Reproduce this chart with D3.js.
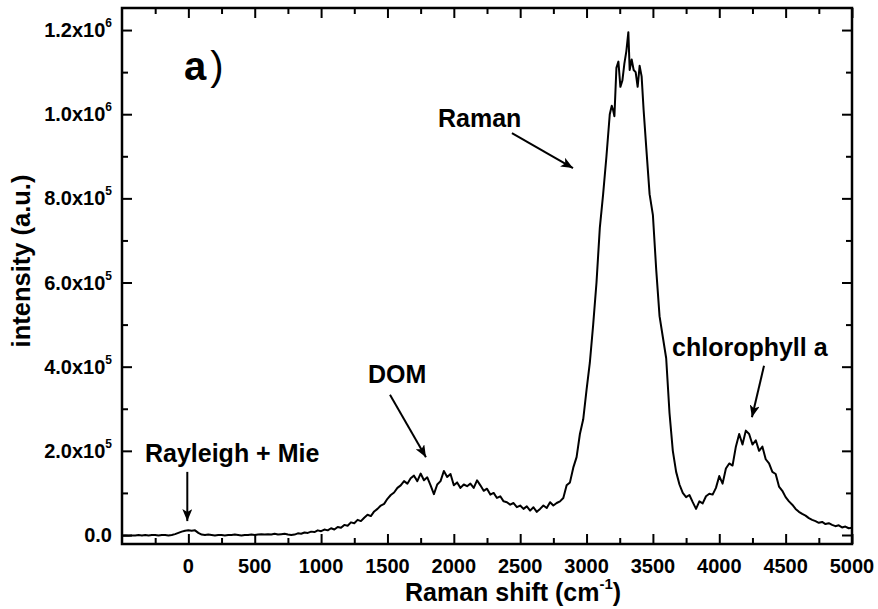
<!DOCTYPE html>
<html>
<head>
<meta charset="utf-8">
<script src="https://cdn.jsdelivr.net/npm/d3@7"></script>
<style>
  body { margin: 0; background: #fff; }
  text { font-family: "Liberation Sans", Arial, sans-serif; fill: #000; }
</style>
</head>
<body>
<script>
// spectrum (shift in cm-1, intensity in a.u.)
var shift = [
  -500, -475, -450, -425, -400, -375, -350, -325, -300, -275, -250, -225, -200, -175, -150, -125,
  -100, -75, -50, -25, 0, 25, 50, 75, 100, 125, 150, 175, 200, 225, 250, 275, 300, 325, 350, 375,
  400, 425, 450, 475, 500, 525, 550, 575, 600, 625, 650, 675, 700, 725, 750, 775, 800, 825, 850, 875,
  900, 925, 950, 975, 1000, 1025, 1050, 1075, 1100, 1125, 1150, 1175, 1200, 1225, 1250, 1275, 1300,
  1325, 1350, 1375, 1400, 1425, 1450, 1475, 1500, 1525, 1550, 1575, 1600, 1625, 1650, 1675, 1700,
  1725, 1750, 1775, 1800, 1825, 1850, 1875, 1900, 1925, 1950, 1975, 2000, 2025, 2050, 2075, 2100,
  2125, 2150, 2175, 2200, 2225, 2250, 2275, 2300, 2325, 2350, 2375, 2400, 2425, 2450, 2475, 2500,
  2525, 2550, 2575, 2600, 2625, 2650, 2675, 2700, 2725, 2750, 2775, 2800, 2825, 2850, 2875, 2900,
  2925, 2950, 2975, 3000, 3025, 3050, 3075, 3100, 3125, 3150, 3175, 3190, 3200, 3210, 3225, 3240,
  3255, 3270, 3285, 3300, 3315, 3325, 3340, 3355, 3370, 3385, 3400, 3415, 3430, 3450, 3475, 3500,
  3525, 3550, 3575, 3600, 3625, 3650, 3675, 3700, 3725, 3750, 3775, 3800, 3825, 3850, 3875, 3900,
  3925, 3950, 3975, 4000, 4025, 4050, 4075, 4100, 4125, 4150, 4175, 4200, 4225, 4250, 4275, 4300,
  4325, 4350, 4375, 4400, 4425, 4450, 4475, 4500, 4525, 4550, 4575, 4600, 4625, 4650, 4675, 4700,
  4725, 4750, 4775, 4800, 4825, 4850, 4875, 4900, 4925, 4950, 4975, 5000
]
var intensity = [
  -2000, -1000, -2000, -1000, -1000, 0, -1000, 0, -1000, 0, 0, -1000, 0, 0, -1000, 0,
  2000, 5000, 8000, 10000, 11000, 10000, 11000, 5000, 1000, 0, 1000, 0, -1000, 0, 0, -1000, 0, 0, 1000, 0,
  -1000, 0, 0, 1000, 0, 1000, 2000, 1000, 2000, 1000, 3000, 1000, 2000, 3000, 1000, 0, 1000, 4000, 3000, 6000,
  5000, 8000, 7000, 11000, 9000, 13000, 11000, 16000, 13000, 19000, 17000, 24000, 22000, 30000, 28000, 36000, 33000,
  41000, 48000, 45000, 56000, 62000, 70000, 74000, 86000, 95000, 101000, 112000, 118000, 128000, 122000, 135000, 141000,
  128000, 146000, 130000, 137000, 118000, 97000, 120000, 128000, 152000, 138000, 145000, 118000, 125000, 112000, 120000, 116000,
  122000, 112000, 130000, 118000, 105000, 110000, 96000, 100000, 88000, 92000, 80000, 78000, 72000, 76000, 66000, 70000,
  62000, 68000, 58000, 66000, 55000, 62000, 70000, 64000, 78000, 70000, 76000, 80000, 88000, 118000, 125000, 160000,
  185000, 240000, 275000, 345000, 410000, 500000, 600000, 730000, 810000, 900000, 1000000, 1020000, 1010000, 995000, 1110000, 1125000,
  1065000, 1080000, 1120000, 1150000, 1195000, 1105000, 1130000, 1105000, 1100000, 1065000, 1115000, 1090000, 1010000, 920000, 810000, 760000,
  630000, 520000, 470000, 420000, 290000, 200000, 150000, 120000, 100000, 90000, 95000, 78000, 62000, 80000, 75000, 92000,
  98000, 96000, 112000, 140000, 122000, 158000, 170000, 165000, 210000, 240000, 215000, 248000, 240000, 215000, 225000, 200000,
  210000, 180000, 170000, 150000, 145000, 115000, 105000, 90000, 80000, 72000, 62000, 55000, 50000, 46000, 40000, 36000,
  33000, 29000, 31000, 26000, 28000, 24000, 21000, 23000, 18000, 20000, 16000, 17000
]

var xTicks = [0, 500, 1000, 1500, 2000, 2500, 3000, 3500, 4000, 4500, 5000]
var yTicks = [0, 200000, 400000, 600000, 800000, 1000000, 1200000]

// annotations: label anchor and arrow from/to, in data units
var annotText = ['Raman', 'DOM', 'Rayleigh + Mie', 'chlorophyll a']
var annotLabelAt = [[1881, 969000], [1353, 361000], [-327, 173000], [3644, 425000]]
var annotArrowFrom = [[2438, 955000], [1519, 333000], [-8, 150000], [4337, 402000]]
var annotArrowTo = [[2898, 872000], [1790, 185000], [-8, 33000], [4246, 280000]]

var W = 878, H = 609
var pLeft = 122, pRight = 852, pTop = 8, pBottom = 544

var svg = d3.select('body').append('svg').attr('width', W).attr('height', H)

var x = d3.scaleLinear().domain([-500, 5000]).range([pLeft, pRight])
var y = d3.scaleLinear().domain([-21400, 1252400]).range([pBottom, pTop])

var xMinor = d3.range(-250, 5000, 250).filter(function (v) { return v % 500 !== 0 })
var yMinor = d3.range(100000, 1250000, 200000)

function addAxis (axisFn, scale, pos, ticks, size) {
  var g = svg.append('g').attr('transform', pos)
    .call(axisFn(scale).tickValues(ticks).tickSize(size).tickFormat(''))
  g.select('.domain').remove()
  g.selectAll('.tick line').attr('stroke', '#000').attr('stroke-width', 2)
  return g
}

// major / minor ticks on all four sides, pointing inward
addAxis(d3.axisBottom, x, 'translate(0,' + pBottom + ')', xTicks, -10)
addAxis(d3.axisBottom, x, 'translate(0,' + pBottom + ')', xMinor, -6)
addAxis(d3.axisTop, x, 'translate(0,' + pTop + ')', xTicks, -10)
addAxis(d3.axisTop, x, 'translate(0,' + pTop + ')', xMinor, -6)
addAxis(d3.axisLeft, y, 'translate(' + pLeft + ',0)', yTicks, -10)
addAxis(d3.axisLeft, y, 'translate(' + pLeft + ',0)', yMinor, -6)
addAxis(d3.axisRight, y, 'translate(' + pRight + ',0)', yTicks, -10)
addAxis(d3.axisRight, y, 'translate(' + pRight + ',0)', yMinor, -6)

svg.append('rect')
  .attr('x', pLeft).attr('y', pTop).attr('width', pRight - pLeft).attr('height', pBottom - pTop)
  .attr('fill', 'none').attr('stroke', '#000').attr('stroke-width', 2.5)

// tick labels
svg.selectAll('.xlab').data(xTicks).enter().append('text')
  .attr('x', function (d) { return x(d) }).attr('y', 573)
  .attr('text-anchor', 'middle').attr('font-size', 20).attr('font-weight', 'bold')
  .text(function (d) { return d })

var ylab = svg.selectAll('.ylab').data(yTicks).enter().append('text')
  .attr('x', 112).attr('y', function (d) { return y(d) + 7 })
  .attr('text-anchor', 'end').attr('font-size', 20).attr('font-weight', 'bold')
ylab.each(function (d) {
  var t = d3.select(this)
  if (d === 0) { t.text('0.0'); return }
  var ex = Math.floor(Math.log10(d))
  t.append('tspan').text((d / Math.pow(10, ex)).toFixed(1) + 'x10')
  t.append('tspan').attr('font-size', 12).attr('dy', -10).text(ex)
})

// axis titles
var xt = svg.append('text').attr('x', 405).attr('y', 601)
  .attr('font-size', 25).attr('font-weight', 'bold')
xt.append('tspan').text('Raman shift (cm')
xt.append('tspan').attr('font-size', 15).attr('dy', -12).text('-1')
xt.append('tspan').attr('dy', 12).text(')')

svg.append('text').attr('transform', 'translate(30,261) rotate(-90)')
  .attr('text-anchor', 'middle').attr('font-size', 25.5).attr('font-weight', 'bold')
  .text('intensity (a.u.)')

// spectrum
var line = d3.line()
  .x(function (d, i) { return x(shift[i]) })
  .y(function (d) { return y(d) })
svg.append('path').datum(intensity)
  .attr('d', line).attr('fill', 'none').attr('stroke', '#000')
  .attr('stroke-width', 2).attr('stroke-linejoin', 'round')

// arrows
svg.append('defs').append('marker')
  .attr('id', 'head').attr('viewBox', '0 0 12 10').attr('refX', 12).attr('refY', 5)
  .attr('markerWidth', 12).attr('markerHeight', 10).attr('markerUnits', 'userSpaceOnUse')
  .attr('orient', 'auto')
  .append('path').attr('d', 'M0,0 L12,5 L0,10 L3,5 Z').attr('fill', '#000')

annotText.forEach(function (txt, i) {
  svg.append('text')
    .attr('x', x(annotLabelAt[i][0])).attr('y', y(annotLabelAt[i][1]))
    .attr('font-size', 25).attr('font-weight', 'bold').text(txt)
  svg.append('line')
    .attr('x1', x(annotArrowFrom[i][0])).attr('y1', y(annotArrowFrom[i][1]))
    .attr('x2', x(annotArrowTo[i][0])).attr('y2', y(annotArrowTo[i][1]))
    .attr('stroke', '#000').attr('stroke-width', 2).attr('marker-end', 'url(#head)')
})

// panel letter
var pl = svg.append('text').attr('x', 184).attr('y', 80).attr('font-size', 40)
pl.append('tspan').attr('font-weight', 'bold').text('a')
pl.append('tspan').attr('dx', 4).text(')')
</script>
</body>
</html>
